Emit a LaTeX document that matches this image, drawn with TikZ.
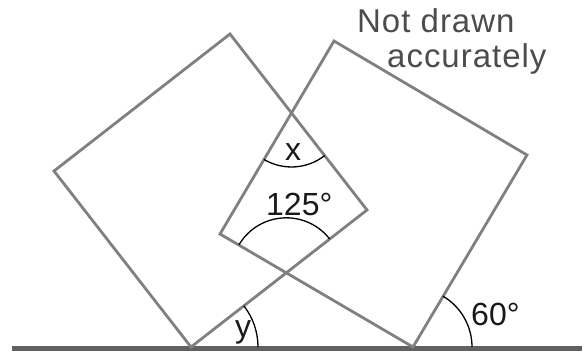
\documentclass[tikz,border=0pt]{standalone}
\usepackage{fontspec}
\setmainfont{Liberation Sans}
\begin{document}
\begin{tikzpicture}[x=1pt,y=1pt,
  sq/.style={draw=black!50, line width=2.8pt, line join=miter},
  ground/.style={draw=black!62, line width=5pt},
  ang/.style={draw=black, line width=1.3pt},
  lab/.style={inner sep=0pt, anchor=base west, font=\fontsize{32}{38}\selectfont, text=black!90},
  note/.style={inner sep=0pt, anchor=base west, font=\fontsize{33}{38}\selectfont\addfontfeature{LetterSpace=3}, text=black!70}]
\useasboundingbox (0,0) rectangle (585,354);
% ground
\coordinate (G0) at (12,6);
\coordinate (G1) at (582,6);
\draw[ground] (G0) -- (G1);
% left square
\coordinate (B1) at (191,7);
\coordinate (R1) at (367,144);
\coordinate (T1) at (230,320);
\coordinate (L1) at (54,183);
% right square
\coordinate (B2) at (413,7);
\coordinate (R2) at (527,199);
\coordinate (T2) at (334,313);
\coordinate (L2) at (220,120);
\draw[sq] (B1) -- (R1) -- (T1) -- (L1) -- cycle;
\draw[sq] (B2) -- (R2) -- (T2) -- (L2) -- cycle;
% intersections
\coordinate (X) at (intersection of T1--R1 and L2--T2);
\coordinate (Y) at (intersection of B1--R1 and L2--B2);
% angle arcs
\draw[ang] (X) ++(239.4:54) arc[start angle=239.4, end angle=307.9, radius=54];
\draw[ang] (Y) ++(37.9:55) arc[start angle=37.9, end angle=149.4, radius=55];
\draw[ang] (B1) ++(0:67) arc[start angle=0, end angle=37.9, radius=67];
\draw[ang] (B2) ++(0:59) arc[start angle=0, end angle=59.5, radius=59];
% labels
\node[lab] (lx) at (285,194) {x};
\node[lab] (l125) at (266,139) {125°};
\node[lab] (ly) at (235,17) {y};
\node[lab] (l60) at (471,29) {60°};
\node[note] (n1) at (357,321) {Not drawn};
\node[note] (n2) at (387,286) {accurately};
\end{tikzpicture}
\end{document}
